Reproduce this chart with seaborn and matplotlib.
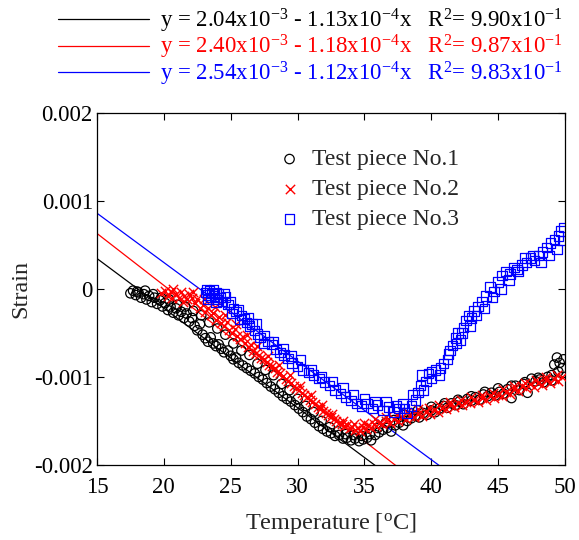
import numpy as np
import pandas as pd
import matplotlib
matplotlib.use("Agg")
import matplotlib.pyplot as plt
import seaborn as sns

# Measured strain (in units of 1e-3) against temperature [degC], two passes per test piece
temp_1 = [17.5, 17.7, 17.9, 18.1, 18.3, 18.5, 18.7, 18.9, 19.1, 19.3, 19.5, 19.7, 19.9, 20.1, 20.3,
          20.5, 20.7, 20.9, 21.1, 21.3, 21.5, 21.7, 21.9, 22.1, 22.3, 22.5, 22.7, 22.9, 23.1, 23.3,
          23.5, 23.7, 23.9, 24.1, 24.3, 24.5, 24.8, 25.0, 25.2, 25.4, 25.6, 25.9, 26.2, 26.5, 26.8,
          27.1, 27.4, 27.7, 28.0, 28.3, 28.6, 28.9, 29.2, 29.5, 29.8, 30.1, 30.4, 30.7, 31.0, 31.3,
          31.6, 31.9, 32.2, 32.5, 32.8, 33.1, 33.4, 33.7, 34.0, 34.3, 34.6, 34.9, 35.2, 35.5, 35.8,
          36.1, 36.4, 36.7, 37.0, 37.3, 37.6, 37.9, 38.2, 38.5, 38.8, 39.1, 39.4, 39.7, 40.0, 40.3,
          40.6, 40.9, 41.2, 41.5, 41.8, 42.1, 42.4, 42.7, 43.0, 43.3, 43.6, 43.9, 44.2, 44.5, 44.8,
          45.1, 45.4, 45.7, 46.0, 46.3, 46.6, 46.9, 47.2, 47.5, 47.8, 48.1, 48.4, 48.7, 49.0, 49.2,
          49.4, 49.6, 49.8, 49.9,
          18.0, 18.6, 19.2, 19.8, 20.4, 21.0, 21.6, 22.2, 22.8, 23.4, 24.0, 24.6, 25.2, 25.8, 26.4,
          27.0, 27.6, 28.2, 28.8, 29.4, 30.0, 30.6, 31.2, 31.8, 32.4, 33.0, 33.6, 34.2, 34.8, 35.4,
          36.0, 36.6, 37.2, 38.0, 39.0, 40.0, 41.0, 42.0, 43.0, 44.0, 45.0, 46.0, 47.0, 48.0, 49.0,
          49.5]
strain_1 = [-0.05, -0.02, -0.07, -0.04, -0.10, -0.06, -0.12, -0.08, -0.15, -0.10, -0.17, -0.13, -0.20,
            -0.16, -0.24, -0.20, -0.27, -0.22, -0.30, -0.26, -0.33, -0.28, -0.37, -0.33, -0.42, -0.47,
            -0.40, -0.52, -0.56, -0.60, -0.55, -0.62, -0.65, -0.63, -0.68, -0.72, -0.70, -0.76, -0.80,
            -0.78, -0.84, -0.87, -0.90, -0.93, -0.96, -1.00, -1.03, -1.07, -1.11, -1.14, -1.18, -1.22,
            -1.25, -1.28, -1.32, -1.36, -1.40, -1.45, -1.48, -1.52, -1.56, -1.59, -1.62, -1.64, -1.67,
            -1.66, -1.70, -1.69, -1.72, -1.70, -1.73, -1.71, -1.69, -1.72, -1.66, -1.63, -1.60, -1.58,
            -1.62, -1.55, -1.52, -1.55, -1.50, -1.47, -1.44, -1.46, -1.41, -1.43, -1.38, -1.40, -1.36,
            -1.33, -1.35, -1.30, -1.32, -1.28, -1.31, -1.25, -1.27, -1.23, -1.26, -1.20, -1.22, -1.18,
            -1.21, -1.17, -1.19, -1.14, -1.24, -1.10, -1.15, -1.08, -1.18, -1.02, -1.05, -1.03, -1.06,
            -1.00, -0.98, -0.86, -0.78, -0.84, -0.90, -0.80,
            -0.03, -0.02, -0.06, -0.10, -0.12, -0.18, -0.20, -0.25, -0.30, -0.38, -0.45, -0.52, -0.62,
            -0.70, -0.75, -0.85, -0.92, -0.98, -1.08, -1.15, -1.25, -1.33, -1.40, -1.50, -1.57, -1.62,
            -1.65, -1.66, -1.67, -1.65, -1.58, -1.52, -1.49, -1.43, -1.38, -1.34, -1.30, -1.26, -1.22,
            -1.17, -1.13, -1.10, -1.06, -1.01, -1.04, -0.94]

temp_2 = [19.8, 20.1, 20.3, 20.5, 20.7, 20.9, 21.1, 21.3, 21.5, 21.7, 21.9, 22.1, 22.3, 22.5, 22.7,
          22.9, 23.1, 23.3, 23.5, 23.7, 23.9, 24.1, 24.3, 24.5, 24.7, 24.9, 25.1, 25.3, 25.5, 25.7,
          25.9, 26.1, 26.3, 26.5, 26.7, 26.9, 27.1, 27.3, 27.5, 27.7, 27.9, 28.1, 28.3, 28.5, 28.7,
          28.9, 29.1, 29.3, 29.5, 29.7, 29.9, 30.1, 30.3, 30.5, 30.7, 30.9, 31.1, 31.3, 31.5, 31.7,
          31.9, 32.1, 32.3, 32.5, 32.7, 32.9, 33.1, 33.3, 33.5, 33.7, 33.9, 34.1, 34.3, 34.5, 34.7,
          34.9, 35.1, 35.3, 35.5, 35.7, 35.9, 36.1, 36.3, 36.6, 36.9, 37.2, 37.5, 37.8, 38.1, 38.4,
          38.7, 39.0, 39.3, 39.6, 39.9, 40.2, 40.5, 40.8, 41.1, 41.4, 41.7, 42.0, 42.3, 42.6, 42.9,
          43.2, 43.5, 43.8, 44.1, 44.4, 44.7, 45.0, 45.3, 45.6, 45.9, 46.2, 46.5, 46.8, 47.1, 47.4,
          47.7, 48.0, 48.3, 48.6, 48.9, 49.2, 49.5, 49.8,
          20.6, 21.4, 22.2, 23.0, 23.8, 24.6, 25.4, 26.2, 27.0, 27.8, 28.6, 29.4, 30.2, 31.0, 31.8,
          32.6, 33.4, 34.2, 35.0, 35.8, 36.6, 37.4, 38.2, 39.0, 39.8, 40.6, 41.4, 42.2, 43.0, 43.8,
          44.6, 45.4, 46.2, 47.0, 47.8, 48.6, 49.4]
strain_2 = [-0.05, -0.02, -0.08, -0.04, 0.00, -0.06, -0.10, -0.03, -0.08, -0.12, -0.06, -0.10, -0.16,
            -0.12, -0.22, -0.18, -0.26, -0.22, -0.30, -0.27, -0.35, -0.32, -0.39, -0.42, -0.38, -0.47,
            -0.50, -0.46, -0.54, -0.57, -0.55, -0.62, -0.66, -0.64, -0.70, -0.73, -0.75, -0.78, -0.80,
            -0.83, -0.86, -0.88, -0.90, -0.94, -0.96, -0.99, -1.02, -1.05, -1.07, -1.10, -1.13, -1.15,
            -1.18, -1.21, -1.23, -1.26, -1.29, -1.31, -1.34, -1.37, -1.39, -1.41, -1.43, -1.46, -1.48,
            -1.50, -1.52, -1.54, -1.56, -1.55, -1.58, -1.57, -1.60, -1.58, -1.61, -1.57, -1.59, -1.55,
            -1.58, -1.53, -1.56, -1.52, -1.54, -1.50, -1.52, -1.48, -1.50, -1.46, -1.48, -1.44, -1.46,
            -1.42, -1.44, -1.40, -1.42, -1.38, -1.40, -1.35, -1.37, -1.32, -1.34, -1.30, -1.32, -1.28,
            -1.30, -1.26, -1.28, -1.24, -1.26, -1.22, -1.24, -1.20, -1.22, -1.17, -1.19, -1.14, -1.16,
            -1.10, -1.13, -1.08, -1.12, -1.07, -1.09, -1.04, -1.07, -1.02, -1.05, -1.00,
            -0.10, -0.15, -0.04, -0.12, -0.20, -0.30, -0.40, -0.52, -0.65, -0.76, -0.87, -0.98, -1.10,
            -1.21, -1.32, -1.42, -1.50, -1.53, -1.52, -1.48, -1.45, -1.43, -1.40, -1.37, -1.35, -1.32,
            -1.28, -1.26, -1.23, -1.20, -1.18, -1.14, -1.10, -1.07, -1.03, -1.00, -0.98]

temp_3 = [23.1, 23.2, 23.3, 23.4, 23.5, 23.6, 23.7, 23.8, 23.9, 24.0, 24.1, 24.2, 24.4, 24.6, 24.8,
          25.0, 25.2, 25.4, 25.6, 25.8, 26.0, 26.2, 26.4, 26.6, 26.8, 27.0, 27.2, 27.5, 27.8, 28.1,
          28.4, 28.7, 29.0, 29.3, 29.6, 30.0, 30.4, 30.8, 31.2, 31.6, 32.0, 32.4, 32.8, 33.2, 33.6,
          34.0, 34.4, 34.8, 35.2, 35.6, 36.0, 36.4, 36.8, 37.2, 37.6, 37.9, 38.2, 38.5, 38.8, 39.0,
          39.2, 39.4, 39.6, 39.8, 40.0, 40.3, 40.6, 40.9, 41.2, 41.4, 41.6, 41.8, 42.0, 42.2, 42.4,
          42.6, 42.8, 43.0, 43.2, 43.5, 43.8, 44.1, 44.4, 44.7, 45.0, 45.3, 45.6, 45.9, 46.2, 46.5,
          46.8, 47.1, 47.4, 47.7, 48.0, 48.3, 48.6, 48.9, 49.2, 49.5, 49.7, 49.9,
          23.3, 23.9, 24.5, 25.1, 25.7, 26.3, 26.9, 27.5, 28.2, 28.9, 29.5, 30.2, 31.0, 31.8, 32.6,
          33.4, 34.2, 35.0, 35.8, 36.6, 37.4, 38.0, 38.6, 39.3, 40.0, 40.7, 41.3, 41.9, 42.3, 42.9,
          43.4, 44.0, 44.6, 45.2, 45.8, 46.4, 47.0, 47.6, 48.2, 48.8, 49.4, 49.8]
strain_3 = [-0.04, -0.01, -0.07, -0.02, -0.10, -0.05, -0.01, -0.08, -0.04, -0.12, -0.06, -0.10, -0.14,
            -0.09, -0.18, -0.15, -0.22, -0.26, -0.24, -0.30, -0.34, -0.38, -0.42, -0.40, -0.47, -0.51,
            -0.55, -0.53, -0.60, -0.63, -0.69, -0.72, -0.75, -0.79, -0.84, -0.88, -0.92, -0.95, -0.98,
            -1.02, -1.06, -1.10, -1.15, -1.19, -1.23, -1.27, -1.30, -1.33, -1.30, -1.36, -1.32, -1.38,
            -1.34, -1.40, -1.36, -1.30, -1.41, -1.33, -1.26, -1.18, -1.10, -1.15, -1.05, -0.96, -1.02,
            -0.92, -0.98, -0.85, -0.80, -0.70, -0.64, -0.56, -0.50, -0.58, -0.44, -0.36, -0.30, -0.33,
            -0.25, -0.20, -0.14, -0.08, 0.02, -0.03, 0.08, 0.15, 0.20, 0.17, 0.24, 0.20, 0.27, 0.30,
            0.35, 0.32, 0.38, 0.42, 0.47, 0.52, 0.56, 0.60, 0.66, 0.70,
            -0.12, -0.15, -0.05, -0.28, -0.35, -0.33, -0.40, -0.62, -0.60, -0.68, -0.76, -0.80, -0.92,
            -1.00, -1.05, -1.12, -1.20, -1.25, -1.28, -1.28, -1.33, -1.36, -1.20, -0.98, -0.94, -0.90,
            -0.74, -0.62, -0.50, -0.42, -0.30, -0.22, -0.10, 0.00, 0.10, 0.22, 0.35, 0.38, 0.30, 0.38,
            0.45, 0.55]

# Linear fits: strain = intercept + slope * T
fit_intercept = [2.04e-3, 2.40e-3, 2.54e-3]
fit_slope = [-1.13e-4, -1.18e-4, -1.12e-4]
fit_r2 = ["9.90", "9.87", "9.83"]

series_names = ["Test piece No.1", "Test piece No.2", "Test piece No.3"]
series_colors = ["black", "red", "blue"]
series_markers = ["o", "x", "s"]

x_ticks = [15, 20, 25, 30, 35, 40, 45, 50]
y_ticks = [-0.002, -0.001, 0.0, 0.001, 0.002]
y_tick_labels = ["-0.002", "-0.001", "0", "0.001", "0.002"]

sns.set_style("ticks")
plt.rcParams["font.family"] = ["Liberation Serif", "DejaVu Serif"]
plt.rcParams["mathtext.fontset"] = "custom"
plt.rcParams["mathtext.rm"] = "Liberation Serif"
plt.rcParams["mathtext.it"] = "Liberation Serif:italic"
plt.rcParams["axes.unicode_minus"] = False

fig = plt.figure(figsize=(5.79, 5.40), dpi=100)
ax = fig.add_axes([0.1675, 0.139, 0.8083, 0.652])

temps = [temp_1, temp_2, temp_3]
strains = [strain_1, strain_2, strain_3]

frames = []
for name, t, s in zip(series_names, temps, strains):
    frames.append(pd.DataFrame({"Temperature": t,
                                "Strain": np.asarray(s) * 1e-3,
                                "Series": name}))
data = pd.concat(frames, ignore_index=True)

# Fitted lines across the full temperature axis
fit_handles = []
x_fit = np.array([x_ticks[0], x_ticks[-1]], dtype=float)
for a, b, c in zip(fit_intercept, fit_slope, series_colors):
    sns.lineplot(x=x_fit, y=a + b * x_fit, color=c, lw=0.9, ax=ax, legend=False)
    fit_handles.append(ax.lines[-1])

# Measured points
for name, c, m in zip(series_names, series_colors, series_markers):
    sub = data[data["Series"] == name]
    if m == "x":
        sns.scatterplot(data=sub, x="Temperature", y="Strain", marker="x", color=c,
                        s=45, linewidth=1.0, ax=ax, label=name, zorder=3)
    else:
        sns.scatterplot(data=sub, x="Temperature", y="Strain", marker=m, color=c,
                        facecolor="none", edgecolor=c, s=46, linewidth=0.9,
                        ax=ax, label=name, zorder=3)

ax.set_xlim(15, 50)
ax.set_ylim(-0.002, 0.002)
ax.set_xticks(x_ticks)
ax.set_xticklabels([str(v) for v in x_ticks])
ax.set_yticks(y_ticks)
ax.set_yticklabels(y_tick_labels)
ax.tick_params(direction="in", length=5, width=0.8, top=True, right=True,
               labelsize=16.5, colors="black")
ax.tick_params(axis="x", pad=9)
ax.tick_params(axis="y", pad=3)
for sp in ax.spines.values():
    sp.set_linewidth(0.9)
    sp.set_color("black")
ax.set_xlabel(r"Temperature [$^{\mathrm{o}}$C]", fontsize=17.5, labelpad=9)
ax.set_ylabel("Strain", fontsize=17.5, labelpad=2)

leg = ax.legend(loc="upper left", bbox_to_anchor=(0.366, 0.925), frameon=False,
                fontsize=17, handlelength=1.0, handletextpad=0.45, labelspacing=0.36,
                borderaxespad=0)

# Regression equations above the plot
eq_labels = []
for a, b, r2 in zip(fit_intercept, fit_slope, fit_r2):
    a_m = a / 1e-3
    b_m = -b / 1e-4
    eq_labels.append(r"y = %.2fx10$^{-3}$ - %.2fx10$^{-4}$x   R$^{2}$= %sx10$^{-1}$" % (a_m, b_m, r2))
fig.legend(fit_handles, eq_labels, loc="upper left", bbox_to_anchor=(0.084, 1.005),
           frameon=False, fontsize=16.5, handlelength=4.0, handletextpad=0.45,
           labelspacing=-0.07, labelcolor="linecolor", borderaxespad=0)

fig.savefig("out.png", dpi=100)
